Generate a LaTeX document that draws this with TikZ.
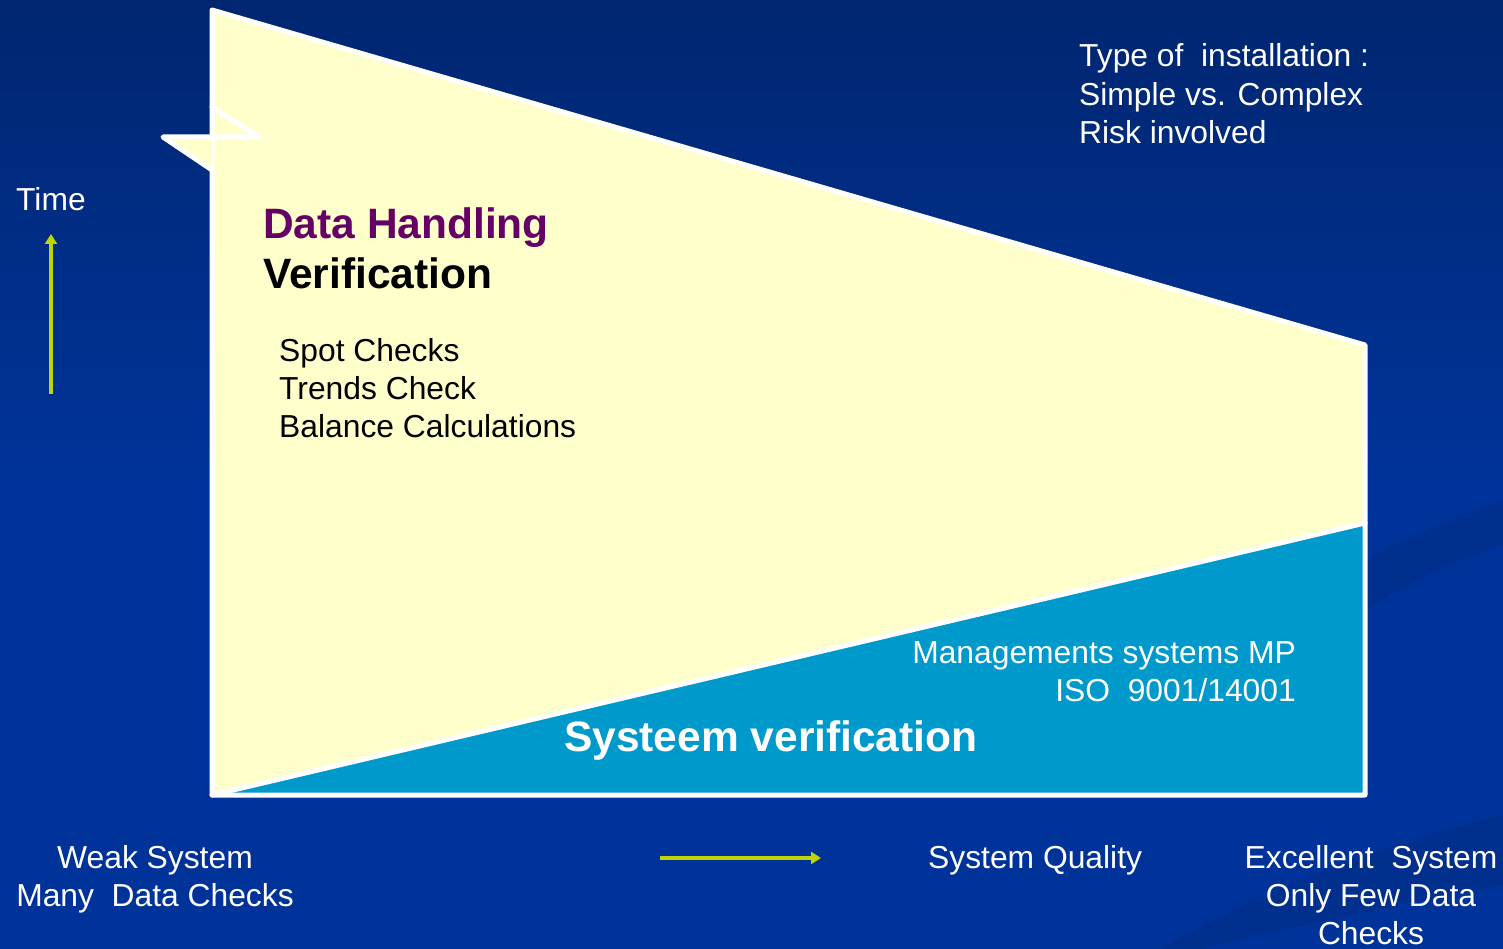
\documentclass[tikz,border=0pt]{standalone}
\usepackage{fontspec}
\setmainfont{Liberation Sans}
\usetikzlibrary{arrows.meta}
\definecolor{bgtop}{RGB}{0,38,112}
\definecolor{bgbot}{RGB}{0,51,153}
\definecolor{swoosh}{RGB}{0,44,130}
\definecolor{paleyellow}{RGB}{255,255,204}
\definecolor{sysblue}{RGB}{0,153,204}
\definecolor{plum}{RGB}{102,0,102}
\definecolor{lime}{RGB}{192,212,0}
\tikzset{
  txt/.style={text=white, inner sep=0pt, font=\fontsize{31.8}{38}\selectfont},
  dark/.style={text=black, inner sep=0pt, font=\fontsize{31.8}{38}\selectfont},
  head/.style={inner sep=0pt, font=\fontsize{42.5}{50}\selectfont\bfseries},
  outline/.style={draw=white, line width=5pt, line join=round, line cap=round},
  axis/.style={draw=lime, line width=4.8pt, -{Triangle[width=12pt,length=10pt]}}
}
\begin{document}
\begin{tikzpicture}[x=1pt,y=-1pt]
% background
\useasboundingbox (0,0) rectangle (1503,949);
\shade[top color=bgtop, bottom color=bgbot, middle color=bgbot] (0,0) rectangle (1503,949);
\fill[swoosh, opacity=0.45] (1365,610) .. controls (1420,575) and (1470,555) .. (1503,545)
  -- (1503,500) .. controls (1460,515) and (1400,540) .. (1365,560) -- cycle;
\fill[swoosh, opacity=0.45] (1200,949) .. controls (1300,925) and (1420,900) .. (1503,885)
  -- (1503,815) .. controls (1420,835) and (1300,870) .. (1160,949) -- cycle;

% main shape corners
\coordinate (tl) at (212,10);
\coordinate (tr) at (1365,345);
\coordinate (br) at (1365,795);
\coordinate (bl) at (212,795);
\coordinate (mr) at (1365,523);

\fill[paleyellow] (tl) -- (tr) -- (br) -- (bl) -- cycle;
\fill[sysblue] (bl) -- (mr) -- (br) -- cycle;
\draw[outline] (tl) -- (tr) -- (br) -- (bl) -- cycle;
\draw[outline] (bl) -- (mr);

% notch on the left edge
\coordinate (n1) at (212,107);
\coordinate (n2) at (259,137);
\coordinate (n3) at (163,137);
\coordinate (n4) at (212,170);
\fill[paleyellow] (n3) -- (212,137) -- (n4) -- cycle;
\draw[outline] (n1) -- (n2) -- (n3) -- (n4);

% axes
\coordinate (t0) at (51,394);
\coordinate (t1) at (51,234);
\draw[axis] (t0) -- (t1);
\coordinate (q0) at (660,858);
\coordinate (q1) at (821,858);
\draw[axis] (q0) -- (q1);

% labels
\node[txt, anchor=base west] (time) at (16,211) {Time};

\node[head, text=plum, anchor=base west] (dh) at (263,239) {Data Handling};
\node[head, text=black, anchor=base west] (ver) at (263,289) {Verification};

\node[dark, anchor=base west] (c1) at (279,361) {Spot Checks};
\node[dark, anchor=base west] (c2) at (279,399) {Trends Check};
\node[dark, anchor=base west] (c3) at (279,437) {Balance Calculations};

\node[txt, anchor=base west] (ty1) at (1079,67) {Type of\ \ installation :};
\node[txt, anchor=base west] (ty2) at (1079,106) {Simple vs. Complex};
\node[txt, anchor=base west] (ty3) at (1079,144) {Risk involved};

\node[txt, anchor=base east] (ms1) at (1296,663) {Managements systems MP};
\node[txt, anchor=base east] (ms2) at (1296,701) {ISO\ \ 9001/14001};

\node[head, text=white, anchor=base west] (sv) at (564,751) {Systeem verification};

\node[txt, anchor=base] (w1) at (155,868) {Weak System};
\node[txt, anchor=base] (w2) at (155,906) {Many\ \ Data Checks};

\node[txt, anchor=base west] (sq) at (928,868) {System Quality};

\node[txt, anchor=base] (e1) at (1371,868) {Excellent\ \ System};
\node[txt, anchor=base] (e2) at (1371,906) {Only Few Data};
\node[txt, anchor=base] (e3) at (1371,944) {Checks};
\end{tikzpicture}
\end{document}
